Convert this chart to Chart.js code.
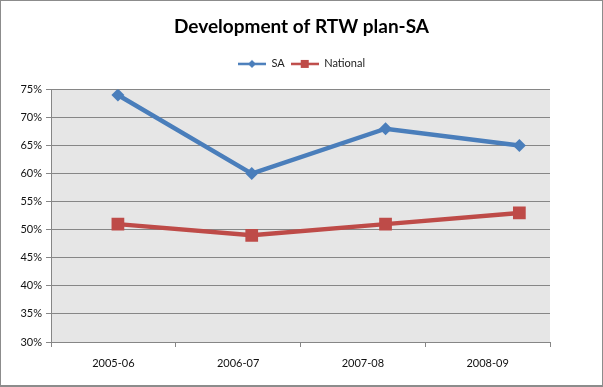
<!DOCTYPE html>
<html>
<head>
<meta charset="utf-8">
<script src="https://cdn.jsdelivr.net/npm/chart.js@4/dist/chart.umd.min.js"></script>
<style>
  html, body { margin: 0; padding: 0; background: #fff; }
  #wrap { position: absolute; left: 0; top: 0; width: 603px; height: 387px; box-sizing: border-box; border: 1px solid #8c8c8c; border-bottom-width: 2px; background: #fff; }
  #c { display: block; }
</style>
</head>
<body>
<div id="wrap"><canvas id="c" width="601" height="384"></canvas></div>
<script>
const categories = ['2005-06', '2006-07', '2007-08', '2008-09'];
const saValues = [74, 60, 68, 65];
const nationalValues = [51, 49, 51, 53];
const yTickValues = [30, 35, 40, 45, 50, 55, 60, 65, 70, 75];
const chartTitle = 'Development of RTW plan-SA';
const seriesNames = ['SA', 'National'];

const SA_COLOR = '#4a7ebb';
const NAT_COLOR = '#be4b48';
const FONT = "Lato, 'Open Sans', sans-serif";

function legendIcon(color, shape) {
  const cv = document.createElement('canvas');
  cv.width = 28; cv.height = 10;
  const g = cv.getContext('2d');
  g.strokeStyle = color; g.lineWidth = 2.5;
  g.beginPath(); g.moveTo(0, 5); g.lineTo(28, 5); g.stroke();
  g.fillStyle = color;
  g.beginPath();
  if (shape === 'diamond') {
    g.moveTo(14, 1); g.lineTo(18, 5); g.lineTo(14, 9); g.lineTo(10, 5); g.closePath();
  } else {
    g.rect(10, 1, 8, 8);
  }
  g.fill();
  return cv;
}
const icons = [legendIcon(SA_COLOR, 'diamond'), legendIcon(NAT_COLOR, 'square')];

const bgPlugin = {
  id: 'plotBg',
  beforeDraw(chart) {
    const a = chart.chartArea, ctx = chart.ctx;
    ctx.save();
    ctx.fillStyle = '#e6e6e6';
    ctx.fillRect(a.left, a.top, a.right - a.left, a.bottom - a.top);
    ctx.restore();
  }
};

const toPoints = vals => vals.map((v, i) => ({ x: i, y: v }));

new Chart(document.getElementById('c'), {
  type: 'line',
  data: {
    labels: categories,
    datasets: [
      {
        label: seriesNames[0], data: toPoints(saValues), xAxisID: 'xData',
        borderColor: SA_COLOR, backgroundColor: SA_COLOR,
        borderWidth: 4.5, pointStyle: 'rectRot', pointRadius: 6.5,
        pointBorderWidth: 0, tension: 0
      },
      {
        label: seriesNames[1], data: toPoints(nationalValues), xAxisID: 'xData',
        borderColor: NAT_COLOR, backgroundColor: NAT_COLOR,
        borderWidth: 4.5, pointStyle: 'rect', pointRadius: 9,
        pointBorderWidth: 0, tension: 0
      }
    ]
  },
  options: {
    responsive: false,
    animation: false,
    layout: { padding: 0 },
    plugins: {
      title: {
        display: true, text: chartTitle, color: '#000',
        font: { family: FONT, size: 19, weight: 'bold', lineHeight: 0.6 },
        padding: { top: 20, bottom: 20 }
      },
      legend: {
        display: true, position: 'top',
        labels: {
          usePointStyle: true, pointStyleWidth: 28,
          color: '#222', font: { family: FONT, size: 11 },
          padding: 6, boxHeight: 10,
          generateLabels(chart) {
            return chart.data.datasets.map((d, i) => ({
              text: d.label, pointStyle: icons[i], fillStyle: d.borderColor,
              strokeStyle: d.borderColor, lineWidth: 0, datasetIndex: i, hidden: false,
              fontColor: '#222'
            }));
          }
        }
      },
      tooltip: { enabled: false }
    },
    scales: {
      x: {
        type: 'category', position: 'bottom',
        offset: true,
        grid: { offset: true, drawOnChartArea: false, color: '#868686', tickLength: 5 },
        border: { color: '#868686' },
        ticks: { color: '#111', font: { family: FONT, size: 11 }, padding: 10, maxRotation: 0 },
        afterFit(s) { s.height = 43; }
      },
      xData: {
        type: 'linear', position: 'bottom', display: false,
        min: -0.5, max: 3.229
      },
      xTop: {
        type: 'category', position: 'top', display: true,
        grid: { display: false }, border: { display: false }, ticks: { display: false },
        afterFit(s) { s.height = 10; }
      },
      y: {
        min: 30, max: 75,
        afterBuildTicks(s) { s.ticks = yTickValues.map(v => ({ value: v })); },
        grid: { color: '#868686', tickLength: 5 },
        border: { color: '#868686' },
        ticks: { color: '#111', font: { family: FONT, size: 11 }, padding: 4, callback: v => v + '%' },
        afterFit(s) { s.width = 50; }
      },
      yRight: {
        type: 'linear', position: 'right', display: true,
        grid: { display: false }, border: { display: false }, ticks: { display: false },
        afterFit(s) { s.width = 52; }
      }
    }
  },
  plugins: [bgPlugin]
});
</script>
</body>
</html>
